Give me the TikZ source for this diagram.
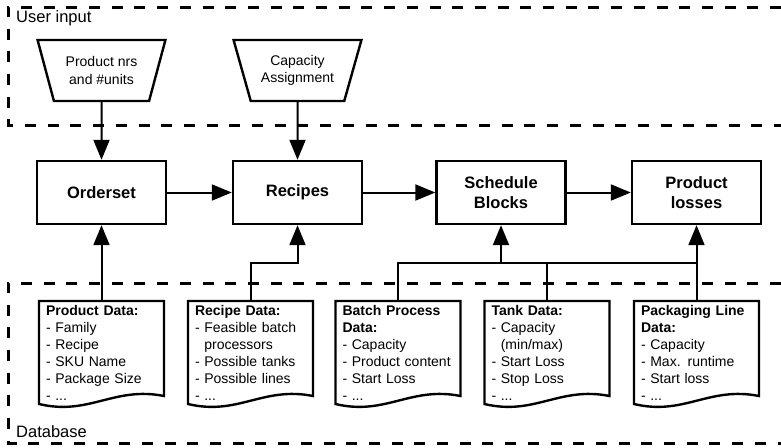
\documentclass[tikz,border=0pt]{standalone}
\usepackage{fontspec}
\setmainfont{Liberation Sans}
\usetikzlibrary{positioning,shapes.geometric,arrows.meta,calc}
\tikzset{>={Triangle[length=20pt,width=16pt]}}
\tikzset{
  block/.style={draw, line width=2.4pt, minimum width=129pt, minimum height=63pt, align=center, font=\fontsize{16.5}{20}\selectfont\bfseries},
  userin/.style={draw, trapezium, trapezium left angle=67, trapezium right angle=67, trapezium stretches=true, shape border rotate=180, minimum width=128pt, minimum height=61pt, inner sep=1pt, line width=2.4pt, align=center, font=\fontsize{14}{17.5}\selectfont},
  datadoc/.style={text width=111pt, inner xsep=7pt, inner ysep=4pt, outer sep=0pt, align=left, font=\fontsize{14}{17}\selectfont},
  doclink/.style={line width=2pt},
  dashframe/.style={line width=3pt, dash pattern=on 11pt off 11.7pt},
  framelabel/.style={anchor=base west, inner sep=0pt, font=\fontsize{16.5}{20}\selectfont}
}

\begin{document}
\begin{tikzpicture}[x=1pt, y=-1pt]
      \useasboundingbox (0,0) rectangle (781,447);
      \draw[dashframe] (781,7) -- (8,7) -- (8,125) -- (781,125);
      \draw[dashframe] (781,283) -- (8,283) -- (8,443) -- (781,443);
      \node[framelabel] (userlabel) at (16,23) {User input};
      \node[framelabel] (dblabel) at (16,437) {Database};
      \node[block] (orderset) at (101.5,192.5) {Orderset};
      \node[block, right of=orderset, node distance=196pt] (recipes) {Recipes};
      \node[block, right of=recipes, node distance=203.5pt] (schedule) {Schedule\\Blocks};
      \node[block, right of=schedule, node distance=195.5pt] (losses) {Product\\losses};
      \node[userin, above of=orderset, node distance=122pt] (prodnrs) {Product nrs\\and \#units};
      \node[userin, above of=recipes, node distance=122pt] (capacity) {Capacity\\Assignment};
      \node[datadoc, anchor=north] (proddata) at (101.5,301) {\textbf{Product Data:}\\- Family\\- Recipe\\- SKU Name\\- Package Size\\- ...};
      \node[datadoc, right of=proddata, node distance=149pt] (recdata) {\textbf{Recipe Data:}\\- Feasible batch\\\phantom{- }processors\\- Possible tanks\\- Possible lines\\- ...};
      \node[datadoc, right of=recdata, node distance=147.5pt] (batchdata) {\textbf{Batch Process}\\\textbf{Data:}\\- Capacity\\- Product content\\- Start Loss\\- ...};
      \node[datadoc, right of=batchdata, node distance=149pt] (tankdata) {\textbf{Tank Data:}\\- Capacity\\\phantom{- }(min/max)\\- Start Loss\\- Stop Loss\\- ...};
      \node[datadoc, right of=tankdata, node distance=149.5pt] (packdata) {\textbf{Packaging Line}\\\textbf{Data:}\\- Capacity\\- Max. runtime\\- Start loss\\- ...};
      \foreach \d in {proddata,recdata,batchdata,tankdata,packdata}
        \draw[line width=2.4pt] (\d.north west) -- (\d.north east) -- ++(0,95) .. controls +(-50,-10) and +(50,12) .. ($(\d.north west)+(0,103)$) -- cycle;
      \coordinate[below of=recipes, node distance=70.5pt] (aux1);
      \coordinate[below of=schedule, node distance=70.5pt] (aux2);
      \draw[->, doclink] (prodnrs) -- (orderset);
      \draw[->, doclink] (capacity) -- (recipes);
      \draw[->, doclink] (orderset) -- (recipes);
      \draw[->, doclink] (recipes) -- (schedule);
      \draw[->, doclink] (schedule) -- (losses);
      \draw[->, doclink] (proddata) -- (orderset);
      \draw[->, doclink] (recdata.north) |- (aux1) -- (recipes);
      \draw[doclink] (batchdata.north) |- (aux2) -- (packdata.north |- aux2);
      \draw[doclink] (tankdata.north) -- (tankdata.north |- aux2);
      \draw[->, doclink] (aux2) -- (schedule);
      \draw[->, doclink] (packdata) -- (losses);
    \end{tikzpicture}
\end{document}
